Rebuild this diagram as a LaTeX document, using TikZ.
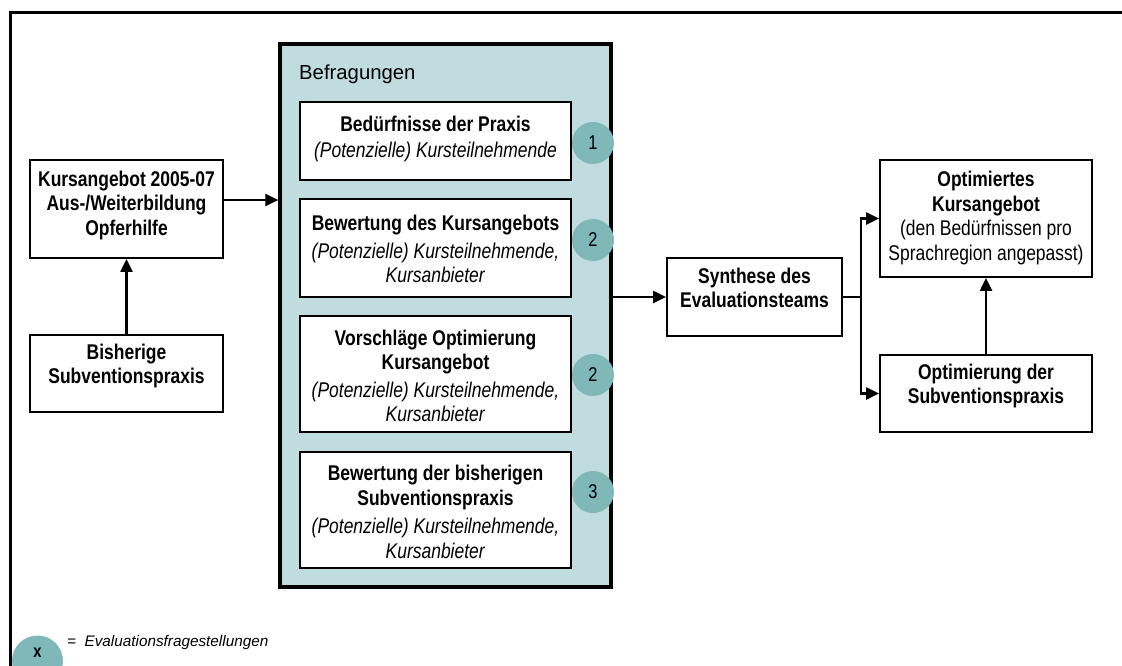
\documentclass[tikz,border=0pt]{standalone}
\usepackage{fontspec}
\setmainfont{Liberation Sans}[FakeStretch=0.82]
\newfontfamily\widefont{Liberation Sans}
\usetikzlibrary{arrows.meta}
\definecolor{befFill}{HTML}{C1DCDF}
\definecolor{numFill}{HTML}{80B7B8}
\tikzset{
  box/.style={draw=black, line width=1.8pt, fill=white, inner sep=0pt},
  txt/.style={align=center, font=\fontsize{21.3}{24.5}\selectfont, inner sep=0pt},
  arr/.style={line width=2.2pt, -{Triangle[length=13pt,width=12pt]}},
  num/.style={circle, fill=numFill, minimum size=42pt, inner sep=0pt, font=\fontsize{20}{21}\selectfont},
}
\begin{document}
\begin{tikzpicture}[x=1pt,y=-1pt]
\useasboundingbox (0,0) rectangle (1122,665);
\begin{scope}
\clip (0,0) rectangle (1122,665);
\draw[line width=3pt] (10,12) rectangle (1200,720);

% Befragungen container
\node[draw=black, line width=3.2pt, fill=befFill, minimum width=331pt, minimum height=543pt, inner sep=0pt] (bef) at (445.5,315.5) {};
\node[anchor=west, inner sep=0pt, font=\widefont\fontsize{20.3}{22}\selectfont] (beflabel) at (299,74) {Befragungen};

% inner boxes
\node[box, minimum width=271pt, minimum height=78pt] (b1) at (435.5,141) {};
\node[box, minimum width=271pt, minimum height=98pt] (b2) at (435.5,248) {};
\node[box, minimum width=271pt, minimum height=116pt] (b3) at (435.5,374) {};
\node[box, minimum width=271pt, minimum height=116pt] (b4) at (435.5,510) {};

\node[txt] (t1) at (435.5,139) {\textbf{Bedürfnisse der Praxis}\\[2pt]\textit{(Potenzielle) Kursteilnehmende}};
\node[txt] (t2) at (435.5,249) {\textbf{Bewertung des Kursangebots}\\[3pt]\textit{(Potenzielle) Kursteilnehmende,}\\\textit{Kursanbieter}};
\node[txt] (t3) at (435.5,376) {\textbf{Vorschläge Optimierung}\\\textbf{Kursangebot}\\[3pt]\textit{(Potenzielle) Kursteilnehmende,}\\\textit{Kursanbieter}};
\node[txt] (t4) at (435.5,512) {\textbf{Bewertung der bisherigen}\\\textbf{Subventionspraxis}\\[4pt]\textit{(Potenzielle) Kursteilnehmende,}\\\textit{Kursanbieter}};

% number circles
\node[num] (n1) at (593,143) {1};
\node[num] (n2) at (593,240) {2};
\node[num] (n3) at (593,375) {2};
\node[num] (n4) at (593,492) {3};

% left boxes
\node[box, minimum width=193pt, minimum height=98pt] (kurs) at (126.5,209) {};
\node[txt] (kurstxt) at (126.5,205) {\textbf{Kursangebot 2005-07}\\\textbf{Aus-/Weiterbildung}\\\textbf{Opferhilfe}};
\node[box, minimum width=193pt, minimum height=77pt] (bis) at (126.5,373.5) {};
\node[txt] (bistxt) at (126.5,366) {\textbf{Bisherige}\\\textbf{Subventionspraxis}};

% synthesis
\node[box, minimum width=175pt, minimum height=78pt] (syn) at (754.5,297) {};
\node[txt] (syntxt) at (754.5,288) {\textbf{Synthese des}\\\textbf{Evaluationsteams}};

% right boxes
\node[box, minimum width=212pt, minimum height=117pt] (opt) at (986,218.5) {};
\node[txt] (opttxt) at (986,218) {\textbf{Optimiertes}\\\textbf{Kursangebot}\\(den Bedürfnissen pro\\Sprachregion angepasst)};
\node[box, minimum width=212pt, minimum height=77pt] (sub) at (986,393.5) {};
\node[txt] (subtxt) at (986,386) {\textbf{Optimierung der}\\\textbf{Subventionspraxis}};

% connectors
\draw[arr] (bis.north) -- (kurs.south);
\draw[arr] ([yshift=9pt]kurs.east) -- ([yshift=9pt]kurs.east -| bef.west);
\draw[arr] (bef.east |- syn.west) -- (syn.west);
\coordinate (junc) at ([xshift=18pt]syn.east);
\draw[arr] (syn.east) -- (junc) |- (opt.west);
\draw[arr] (junc) |- (sub.west);
\draw[arr] (sub.north) -- (opt.south);

% legend
\node[num, minimum size=51pt] (legx) at (37.5,661) {};
\node[inner sep=0pt, font=\fontsize{18}{19}\selectfont\bfseries] (legxt) at (37.5,653) {x};
\node[anchor=west, inner sep=0pt, font=\widefont\fontsize{15.3}{17}\selectfont\itshape] (legtxt) at (67,643) {=\ \ Evaluationsfragestellungen};
\end{scope}
\end{tikzpicture}
\end{document}
